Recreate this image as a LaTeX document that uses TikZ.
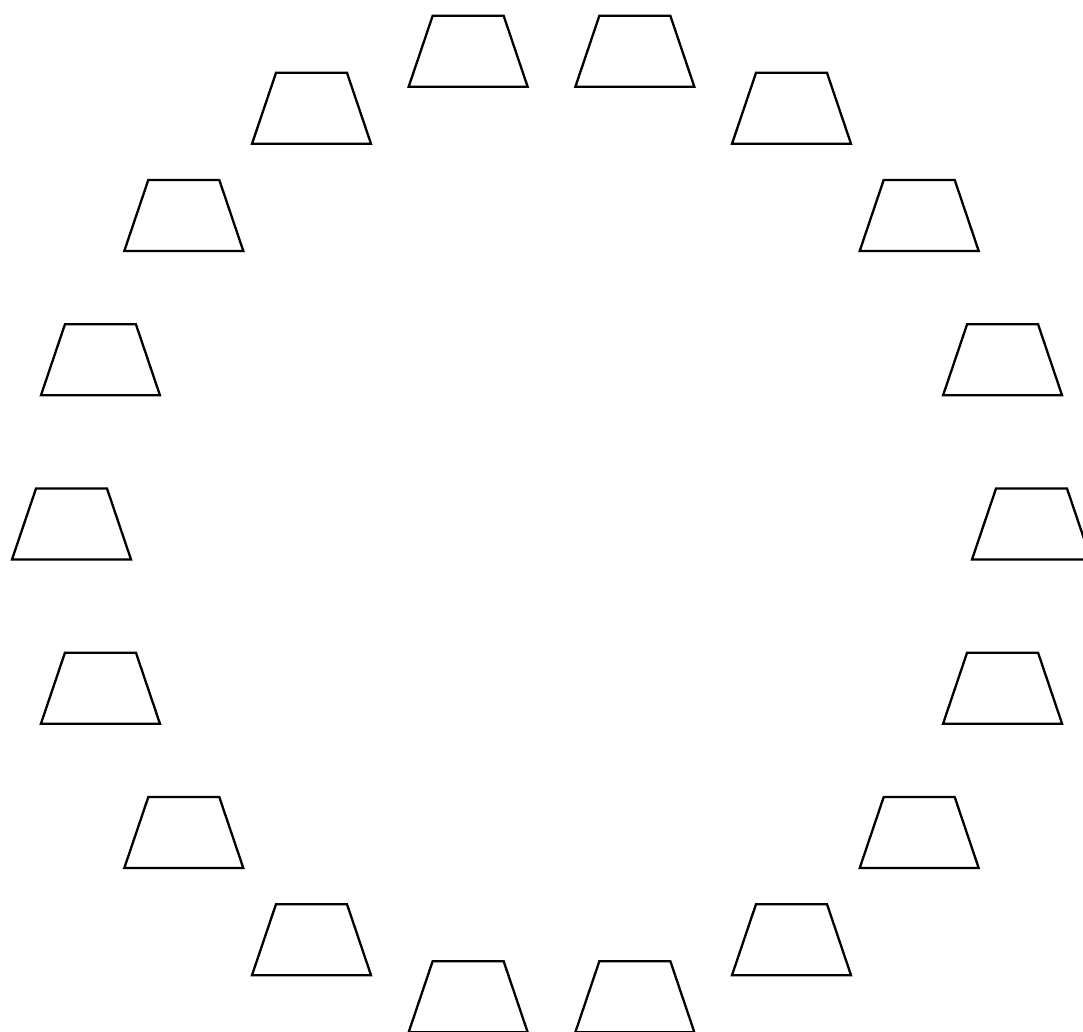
\documentclass[tikz,border=0pt]{standalone}
\begin{document}
\begin{tikzpicture}[x=1pt,y=-1pt,
  slot/.style={rectangle, minimum width=119pt, minimum height=71pt, inner sep=0pt, outer sep=0pt},
  trapline/.style={draw, line width=2.3pt, line join=miter}]
\useasboundingbox (0,0) rectangle (1083,1032);
\clip (0,0) rectangle (1083,1032);
\coordinate (c) at (551.5,524);
\foreach \i in {0,...,17} {
  \node[slot] (t\i) at ([shift={(\i*20:480)}]c) {};
  \draw[trapline] (t\i.south west) -- ([xshift=24pt]t\i.north west)
    -- ([xshift=-24pt]t\i.north east) -- (t\i.south east) -- cycle;
}
\end{tikzpicture}
\end{document}
